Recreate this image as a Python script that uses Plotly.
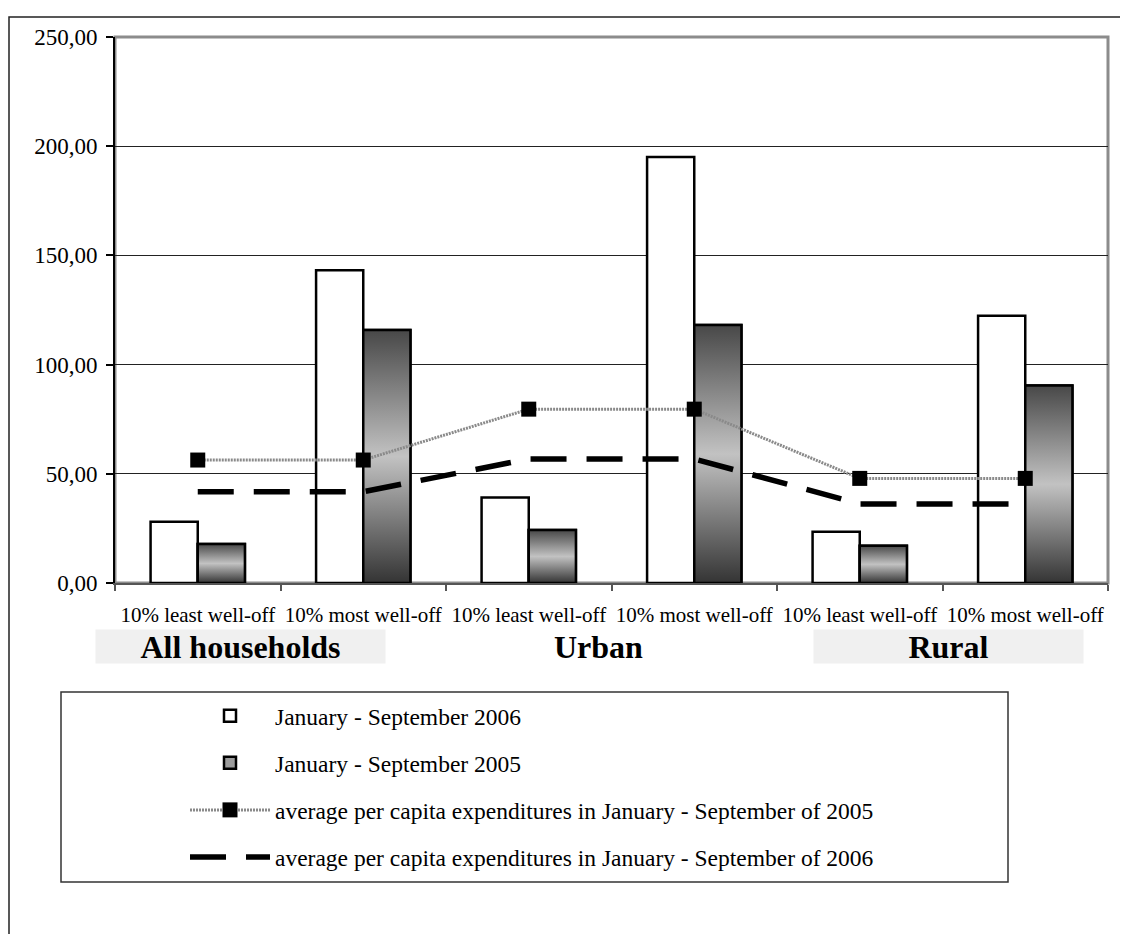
import plotly.graph_objects as go

# ---------------- data ----------------
categories = ["10% least well-off", "10% most well-off",
              "10% least well-off", "10% most well-off",
              "10% least well-off", "10% most well-off"]
groups = ["All households", "Urban", "Rural"]
jan_sep_2006 = [28.1, 143.2, 39.2, 195.1, 23.5, 122.4]
jan_sep_2005 = [17.9, 115.8, 24.3, 118.1, 17.1, 90.4]
avg_exp_2005 = [56.3, 56.3, 79.6, 79.6, 47.9, 47.9]
avg_exp_2006 = [41.8, 41.8, 56.8, 56.8, 36.2, 36.2]
y_ticks = [0, 50, 100, 150, 200, 250]
series_names = ["January - September 2006",
                "January - September 2005",
                "average per capita expenditures in January - September of 2005",
                "average per capita expenditures in January - September of 2006"]

# ---------------- layout geometry ----------------
# the page body adds an 8px margin, so the figure is 8px smaller than the window
W, H = 1120, 926
ML, MR, MT, MB = 107, 20, 29, 351
PW, PH = W - ML - MR, H - MT - MB
FONT = "Liberation Serif, Times New Roman, Times, serif"
BAR_W = 0.285
PLOT_LEFT, PLOT_BOTTOM = 115, 583  # screen pixels

def px_x(p):
    return (p - PLOT_LEFT) / PW

def px_y(p):
    return (PLOT_BOTTOM - p) / PH

xs = list(range(len(categories)))

fig = go.Figure()

fig.add_trace(go.Bar(
    x=xs, y=jan_sep_2006, name=series_names[0], offset=-BAR_W, width=BAR_W,
    marker=dict(color="white", line=dict(color="black", width=2.5)),
    legendgroup="a"))
fig.add_trace(go.Bar(
    x=xs, y=jan_sep_2005, name=series_names[1], offset=0, width=BAR_W,
    marker=dict(color="#9c9c9c", line=dict(color="black", width=2.5)),
    legendgroup="b"))

# gradient overlay for the 2005 bars (same data, same positions)
for i, v in zip(xs, jan_sep_2005):
    fig.add_trace(go.Scatter(
        x=[i, i, i + BAR_W, i + BAR_W, i], y=[0, v, v, 0, 0],
        mode="lines", fill="toself",
        fillgradient=dict(type="vertical",
                          colorscale=[[0, "#343434"], [0.5, "#c2c2c2"], [1, "#484848"]]),
        line=dict(color="black", width=2.5),
        showlegend=False, hoverinfo="skip", legendgroup="b"))

fig.add_trace(go.Scatter(
    x=xs, y=avg_exp_2005, name=series_names[2], mode="lines+markers",
    line=dict(color="#8a8a8a", width=3, dash="2px,1px"),
    marker=dict(symbol="square", size=15, color="black"),
    legendgroup="c"))
fig.add_trace(go.Scatter(
    x=xs, y=avg_exp_2006, name=series_names[3], mode="lines",
    line=dict(color="black", width=5.5, dash="36px,20px"),
    legendgroup="d"))

# ---------------- shapes ----------------
shapes = [
    # plot-area frame
    dict(type="rect", xref="paper", yref="paper", x0=0, x1=1, y0=0, y1=1,
         line=dict(color="#8c8c8c", width=3), layer="below"),
    # outer chart border
    dict(type="rect", xref="paper", yref="paper",
         x0=px_x(9), x1=px_x(1145), y0=px_y(955), y1=px_y(17),
         line=dict(color="#222222", width=1.5), layer="below"),
    # legend box
    dict(type="rect", xref="paper", yref="paper",
         x0=px_x(61), x1=px_x(1008), y0=px_y(882), y1=px_y(692),
         line=dict(color="#333333", width=1.5), layer="below"),
]

# ---------------- group labels ----------------
group_boxes = [(96, 385, "#f0f0f0"), (554, 643, "rgba(0,0,0,0)"), (814, 1083, "#f0f0f0")]
annotations = []
for g, (a, b, bg) in zip(groups, group_boxes):
    annotations.append(dict(
        text="<b>%s</b>" % g, xref="paper", yref="paper",
        x=px_x((a + b) / 2), y=px_y(646.5), xanchor="center", yanchor="middle",
        width=b - a, height=33, bgcolor=bg, borderpad=0, showarrow=False,
        font=dict(family=FONT, size=32, color="black")))

fig.update_layout(
    width=W, height=H,
    margin=dict(l=ML, r=MR, t=MT, b=MB, autoexpand=False),
    paper_bgcolor="white", plot_bgcolor="white",
    font=dict(family=FONT, color="black"),
    separators=",.",
    barmode="overlay",
    showlegend=True,
    legend=dict(x=px_x(185), xanchor="left", y=px_y(694), yanchor="top",
                bgcolor="rgba(0,0,0,0)", borderwidth=0,
                font=dict(family=FONT, size=23.5, color="black"),
                itemwidth=80, traceorder="grouped", tracegroupgap=13.5),
    xaxis=dict(range=[-0.5, 5.5], tickvals=xs, ticktext=categories,
               ticks="", tickfont=dict(family=FONT, size=21, color="black"),
               ticklabelstandoff=12,
               minor=dict(tickvals=[i - 0.5 for i in range(7)], ticks="outside",
                          ticklen=6, tickcolor="#555555", tickwidth=1.5,
                          showgrid=False),
               showline=True, linecolor="#555555", linewidth=2,
               showgrid=False, zeroline=False),
    yaxis=dict(range=[0, 250], tickvals=y_ticks, tickformat=".2f",
               ticks="outside", ticklen=7, tickcolor="black", tickwidth=1.5,
               tickfont=dict(family=FONT, size=23, color="black"),
               showline=True, linecolor="black", linewidth=2,
               showgrid=True, gridcolor="#222222", gridwidth=1,
               zeroline=False, ticklabelstandoff=4),
    shapes=shapes,
    annotations=annotations,
)

fig.write_html("out.html")
